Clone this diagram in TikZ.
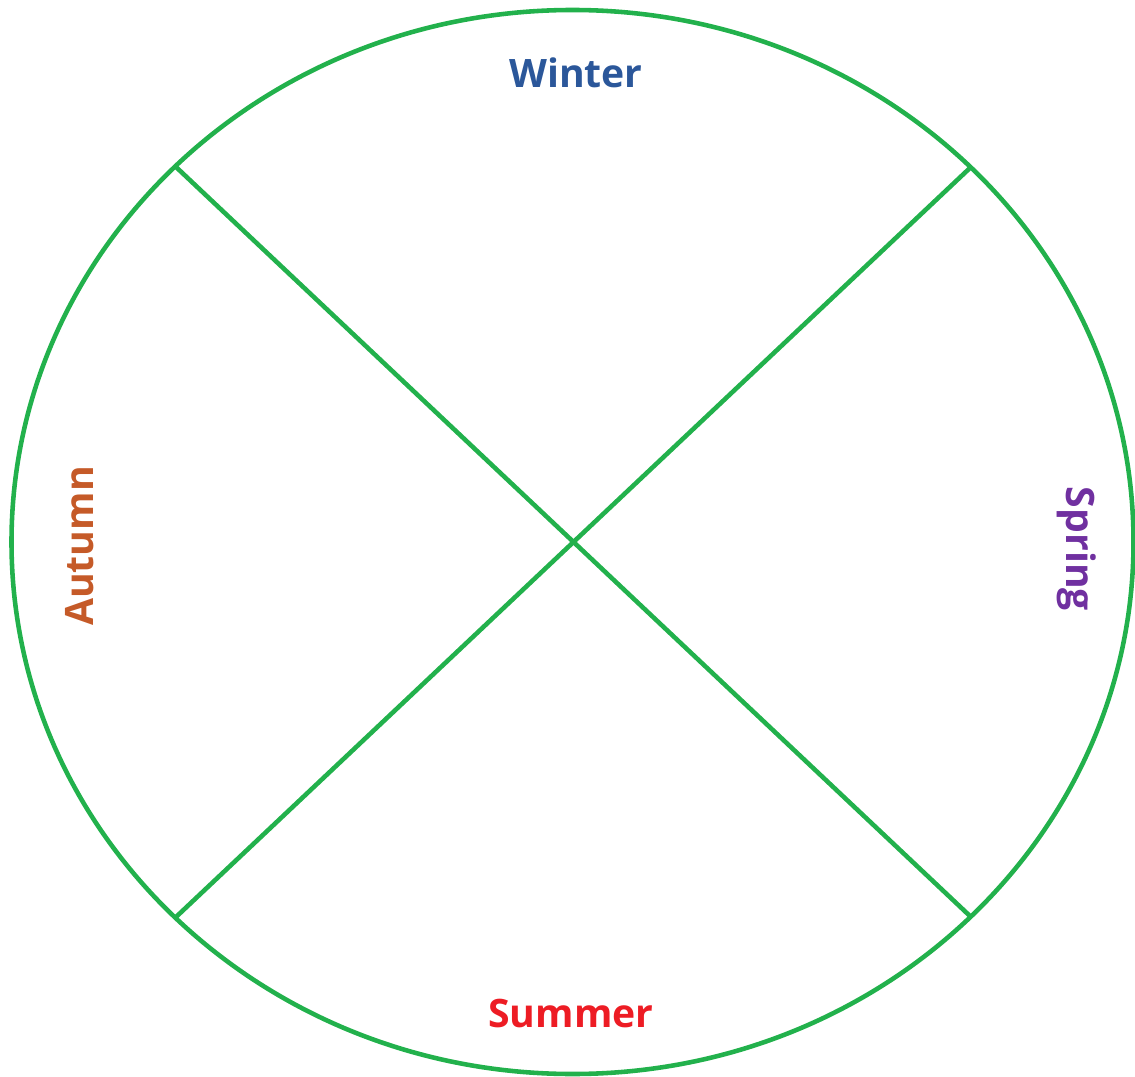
\documentclass[tikz,border=0pt]{standalone}
\usepackage{fontspec}
\setmainfont{Open Sans}
\usetikzlibrary{positioning}

\definecolor{rimgreen}{HTML}{22B14C}
\definecolor{winterblue}{HTML}{2B579A}
\definecolor{summerred}{HTML}{ED1C24}
\definecolor{autumnorange}{HTML}{C55A28}
\definecolor{springpurple}{HTML}{7030A0}

\tikzset{
  rim/.style={draw=rimgreen, line width=2.6pt},
  season/.style={inner sep=0pt, font=\fontsize{22.3}{26}\selectfont\bfseries}
}

\begin{document}
\begin{tikzpicture}[x=0.02cm, y=-0.02cm]
\useasboundingbox (0,0) rectangle (1135,1077);
\draw [rim] (572.5,542) ellipse [x radius=561, y radius=532];
% ends of the two diagonals on the rim
\coordinate (nw) at (176,167);
\coordinate (ne) at (971,167);
\coordinate (sw) at (176,917);
\coordinate (se) at (971,917);
\draw [rim] (nw) -- (se);
\draw [rim] (ne) -- (sw);
\node [season, text=winterblue] (winter) at (576,73) {Winter};
\node [season, text=summerred] (summer) at (571,1013) {Summer};
\node [season, text=autumnorange, rotate=90] (autumn) at (80,546) {Autumn};
\node [season, text=springpurple, rotate=-90] (spring) at (1077,549) {Spring};
\end{tikzpicture}
\end{document}
